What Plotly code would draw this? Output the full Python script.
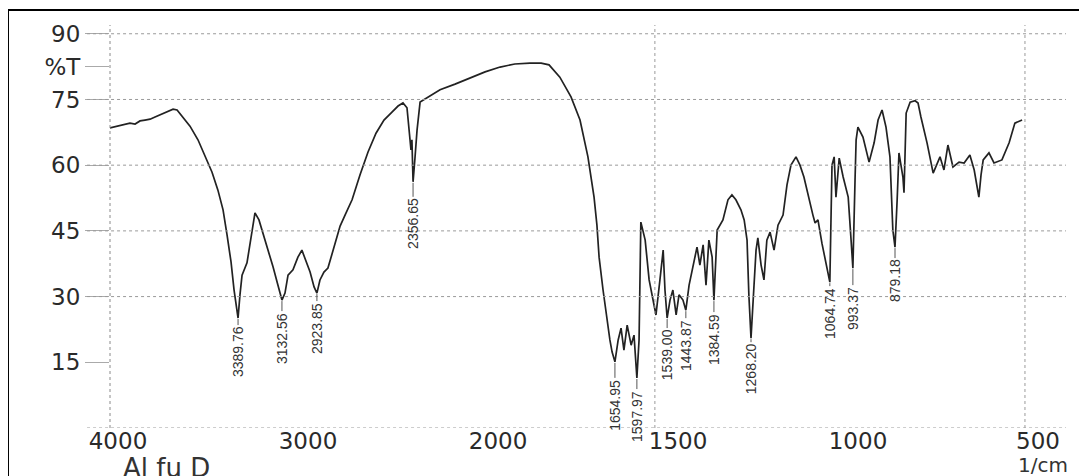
import plotly.graph_objects as go

# ---- data ----
wavenumber = [4000, 3958, 3921, 3895, 3868, 3842, 3816, 3789, 3763, 3737, 3711, 3684, 3668, 3647, 3621, 3579, 3537, 3500, 3463, 3432,
              3405, 3384, 3363, 3347, 3337, 3326, 3316, 3305, 3279, 3258, 3237, 3216, 3195, 3168, 3142, 3116, 3095, 3079, 3063, 3037,
              3011, 2990, 2968, 2947, 2926, 2911, 2895, 2874, 2853, 2832, 2811, 2789, 2763, 2726, 2684, 2642, 2600, 2558, 2516, 2484,
              2458, 2437, 2421, 2416, 2411, 2405, 2395, 2384, 2368, 2326, 2263, 2184, 2105, 2026,
              1972, 1931, 1889, 1858, 1836, 1806, 1775, 1750, 1728, 1711, 1703, 1697, 1686, 1675, 1667, 1661, 1653, 1644, 1636, 1628,
              1619, 1608, 1600, 1592, 1586, 1581, 1569, 1558, 1547, 1539, 1528, 1519, 1514, 1508, 1500, 1492, 1483, 1475, 1464, 1456,
              1447, 1439, 1425, 1417, 1408, 1400, 1392, 1383, 1378, 1369, 1353, 1339, 1328, 1317, 1303, 1294, 1286, 1281, 1275, 1269,
              1261, 1256, 1247, 1239, 1231, 1222, 1211, 1200, 1186, 1175, 1164, 1150, 1139, 1128, 1114, 1103, 1097, 1089, 1078, 1067,
              1058, 1056, 1050, 1044, 1039, 1030, 1019, 1005, 997, 992, 986, 983, 978, 964, 947, 933, 922, 911, 900, 889,
              881, 875, 869, 864, 853, 850, 844, 833, 819, 811, 803, 786, 769, 761, 750, 739, 728, 714, 697, 683,
              667, 655, 647, 642, 636, 630, 614, 600, 578, 558, 542, 531, 522]

transmittance = [68.5, 68.9, 69.2, 69.6, 69.4, 70.1, 70.3, 70.5, 71.0, 71.5, 71.9, 72.4, 72.8, 72.6, 71.2, 68.9, 65.8, 62.3, 58.4, 54.3,
                 49.8, 44.1, 37.9, 31.5, 28.1, 25.1, 30.4, 34.9, 37.7, 43.4, 49.1, 47.5, 44.5, 40.6, 36.8, 32.6, 29.2, 30.8, 34.9, 36.1,
                 39.0, 40.6, 37.9, 35.6, 32.2, 30.8, 33.8, 35.6, 36.5, 39.5, 42.9, 46.1, 48.6, 52.1, 57.8, 63.0, 67.3, 70.3, 72.1, 73.5,
                 74.2, 73.1, 65.8, 63.5, 65.8, 56.2, 61.6, 68.0, 74.4, 75.6, 77.2, 78.5, 79.9, 81.3,
                 82.4, 83.1, 83.3, 83.3, 82.9, 80.1, 75.6, 70.3, 61.9, 52.7, 46.3, 39.0, 31.5, 24.7, 20.1, 17.4, 15.1, 20.1, 22.8, 17.8,
                 23.5, 18.9, 21.2, 11.4, 20.1, 47.0, 42.9, 33.8, 29.2, 25.8, 33.8, 40.6, 31.5, 25.1, 29.2, 31.5, 25.8, 30.4, 29.2, 26.9,
                 32.6, 36.1, 41.3, 37.2, 41.8, 32.6, 42.9, 39.0, 29.2, 45.2, 47.5, 52.1, 53.2, 52.1, 49.8, 47.5, 42.9, 30.4, 20.5, 29.2,
                 40.6, 43.4, 37.2, 33.8, 42.9, 44.7, 40.6, 46.3, 48.6, 55.5, 60.0, 61.9, 60.0, 57.3, 52.1, 48.6, 46.8, 47.5, 42.2, 37.9,
                 34.9, 33.3, 60.0, 61.9, 52.7, 61.6, 57.3, 52.7, 42.9, 36.5, 56.6, 65.8, 68.7, 66.4, 60.7, 65.1, 70.3, 72.6, 68.7, 61.9,
                 45.2, 41.3, 52.1, 62.8, 57.3, 53.7, 71.9, 74.4, 74.7, 74.2, 71.0, 65.1, 58.2, 59.6, 61.9, 58.9, 64.6, 59.6, 60.7, 60.5,
                 62.3, 58.9, 55.5, 52.7, 57.8, 61.2, 62.8, 60.5, 61.2, 65.1, 69.6, 69.9, 70.3]

# peak labels (text as printed) and the dip they mark
peak_text = ["3389.76", "3132.56", "2923.85", "2356.65", "1654.95", "1597.97", "1539.00",
             "1443.87", "1384.59", "1268.20", "1064.74", "993.37", "879.18"]
peak_wn = [3326, 3095, 2911, 2405, 1653, 1592, 1508, 1456, 1378, 1275, 1056, 992, 875]

x_ticks = [4000, 3000, 2000, 1500, 1000, 500]
y_ticks = [90, 82.5, 75, 60, 45, 30, 15]
y_tick_text = ["90", "%T", "75", "60", "45", "30", "15"]
y_grid = [90, 75, 60, 45, 30, 0]
x_grid = [1542, 514]

# label offsets (pixels, styling only)
label_ay = [34, 38, 35, 42, 43, 38, 37, 35, 39, 31, 31, 40, 34]

# Instrument x-scale: 4000-2000 cm-1 compressed, 2000-400 full scale
HI = 0.5278


def to_axis(wn):
    if wn >= 2000:
        return (4000 - wn) * HI
    return 2000 * HI + (2000 - wn)


xs = [to_axis(w) for w in wavenumber]
T_of = dict(zip(wavenumber, transmittance))

fig = go.Figure()
fig.add_trace(go.Scatter(x=xs, y=transmittance, mode="lines",
                         line=dict(color="#222222", width=1.7), hoverinfo="skip"))

for txt, w, ay in zip(peak_text, peak_wn, label_ay):
    fig.add_annotation(x=to_axis(w), y=T_of[w], text=txt, textangle=-90,
                       showarrow=True, arrowhead=0, arrowwidth=1, arrowcolor="#555",
                       ax=0, ay=ay, standoff=1,
                       font=dict(family="Liberation Sans", size=14, color="#333"))

shapes = []
for g in y_grid:
    shapes.append(dict(type="line", xref="paper", yref="y", x0=-0.024, x1=1.0, y0=g, y1=g,
                       line=dict(color="#9a9a9a", width=1, dash="dot")))
for g in x_grid:
    shapes.append(dict(type="line", xref="x", yref="paper", x0=to_axis(g), x1=to_axis(g), y0=0, y1=1,
                       line=dict(color="#9a9a9a", width=1, dash="dot")))
shapes.append(dict(type="line", xref="paper", yref="paper", x0=0, x1=0, y0=0, y1=1,
                   line=dict(color="#8a8a8a", width=1, dash="dot")))
# outer frame of the scan (top, left, right)
FL, FR, FT, FB = -0.1067, 1.0157, 1.037, -0.3
shapes.append(dict(type="line", xref="paper", yref="paper", x0=FL, x1=FR, y0=FT, y1=FT,
                   line=dict(color="black", width=2)))
shapes.append(dict(type="line", xref="paper", yref="paper", x0=FL, x1=FL, y0=FB, y1=FT,
                   line=dict(color="black", width=2)))
shapes.append(dict(type="line", xref="paper", yref="paper", x0=FR, x1=FR, y0=FB, y1=FT,
                   line=dict(color="black", width=2)))

fig.add_annotation(xref="paper", yref="paper", x=0.012, y=-0.1, xanchor="left", yanchor="middle",
                   text="Al fu D", showarrow=False, font=dict(family="DejaVu Sans", size=26, color="#333"))
fig.add_annotation(xref="paper", yref="paper", x=1.004, y=-0.092, xanchor="right", yanchor="middle",
                   text="1/cm", showarrow=False, font=dict(family="DejaVu Sans", size=20, color="#333"))

# the page adds an 8px body margin, so margins are reduced by 8 on the top/left
fig.update_layout(
    width=1087, height=476,
    margin=dict(l=102, r=29, t=17, b=56),
    paper_bgcolor="white", plot_bgcolor="white",
    showlegend=False, shapes=shapes,
    xaxis=dict(range=[to_axis(4000), to_axis(400)], tickvals=[to_axis(v) for v in x_ticks],
               ticktext=[str(v) for v in x_ticks], showgrid=False, zeroline=False, showline=False,
               ticks="", ticklabelshift=8, ticklabelstandoff=-3,
               tickfont=dict(family="DejaVu Sans", size=23, color="#2a2a2a")),
    yaxis=dict(range=[0, 92], tickvals=y_ticks, ticktext=y_tick_text, showgrid=False,
               zeroline=False, showline=False, ticks="outside", ticklen=24, tickcolor="#aaaaaa",
               tickfont=dict(family="DejaVu Sans", size=23, color="#2a2a2a")),
)

fig.write_html("out.html")
